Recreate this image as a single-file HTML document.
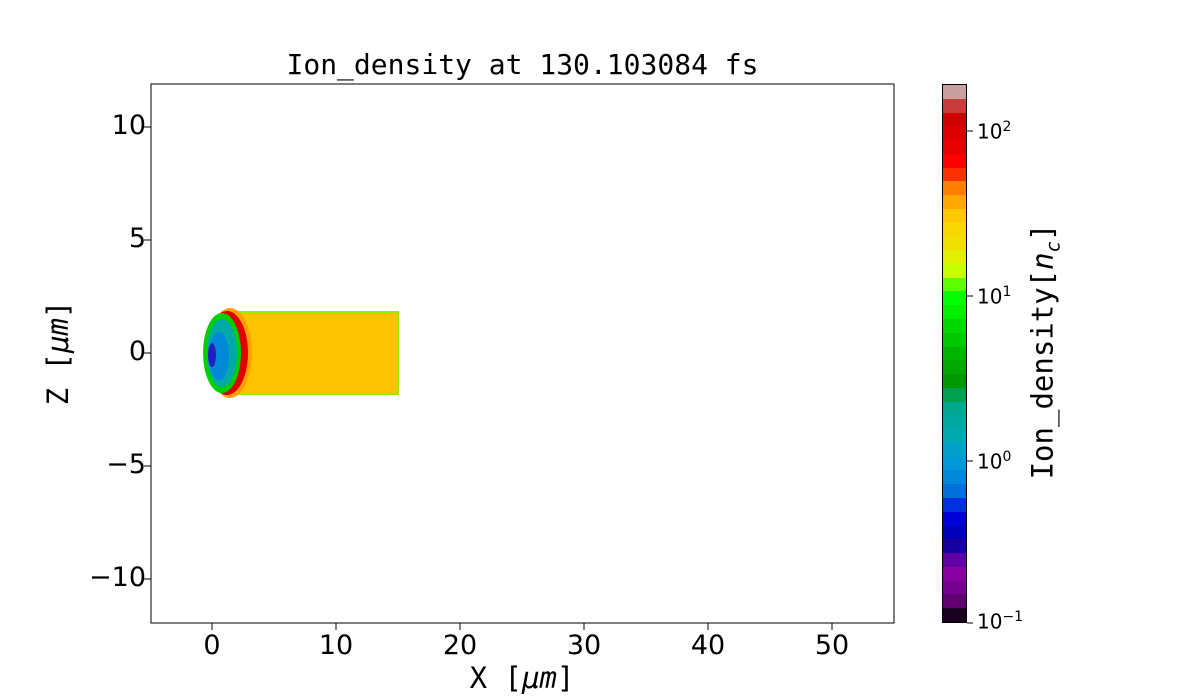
<!DOCTYPE html>
<html><head><style>
body{margin:0;background:#fff;width:1200px;height:700px;overflow:hidden;position:relative;font-family:"DejaVu Sans","Liberation Sans",sans-serif}
.t{position:absolute;white-space:nowrap}
#cb{position:absolute;left:942px;top:84px;width:25px;height:539px;border:1px solid #000;box-sizing:border-box;display:flex;flex-direction:column}
#cb div{flex:1}
</style></head><body>
<div class="t" style="left:0;width:1045px;text-align:center;top:48px;font-family:'DejaVu Sans Mono',monospace;font-size:28px">Ion_density at 130.103084 fs</div>
<svg width="1200" height="700" style="position:absolute;left:0;top:0">
<rect x="151" y="84" width="743" height="539" fill="none" stroke="#000" stroke-width="1"/>
<g stroke="#000">
<line x1="212" y1="623" x2="212" y2="630"/><line x1="336" y1="623" x2="336" y2="630"/><line x1="460" y1="623" x2="460" y2="630"/><line x1="584" y1="623" x2="584" y2="630"/><line x1="708" y1="623" x2="708" y2="630"/><line x1="832" y1="623" x2="832" y2="630"/>
<line x1="144" y1="127" x2="151" y2="127"/><line x1="144" y1="240" x2="151" y2="240"/><line x1="144" y1="353" x2="151" y2="353"/><line x1="144" y1="466" x2="151" y2="466"/><line x1="144" y1="579" x2="151" y2="579"/>
<line x1="967" y1="131" x2="973" y2="131"/><line x1="967" y1="296" x2="973" y2="296"/><line x1="967" y1="461" x2="973" y2="461"/><line x1="967" y1="623" x2="973" y2="623"/>
</g>
<rect x="226" y="311" width="173" height="84" fill="#9ee800"/>
<rect x="226" y="313" width="171" height="80" fill="#ffc400"/>
<ellipse cx="230" cy="353" rx="22" ry="45" fill="#ffa000"/>
<ellipse cx="227" cy="353" rx="21" ry="42" fill="#e00000"/>
<ellipse cx="222" cy="353" rx="19" ry="40" fill="#00d000"/>
<ellipse cx="222" cy="353" rx="15" ry="34" fill="#00a8a8"/>
<ellipse cx="219" cy="356" rx="10" ry="24" fill="#0088d8"/>
<ellipse cx="212" cy="355" rx="4" ry="12" fill="#2020c0"/>
</svg>
<div class="t" style="left:100px;top:110px;font-size:27px;width:46px;text-align:right">10</div>
<div class="t" style="left:100px;top:223px;font-size:27px;width:46px;text-align:right">5</div>
<div class="t" style="left:100px;top:336px;font-size:27px;width:46px;text-align:right">0</div>
<div class="t" style="left:80px;top:449px;font-size:27px;width:66px;text-align:right">−5</div>
<div class="t" style="left:70px;top:562px;font-size:27px;width:76px;text-align:right">−10</div>
<div class="t" style="left:192px;top:630px;font-size:27px;width:40px;text-align:center">0</div>
<div class="t" style="left:306px;top:630px;font-size:27px;width:60px;text-align:center">10</div>
<div class="t" style="left:430px;top:630px;font-size:27px;width:60px;text-align:center">20</div>
<div class="t" style="left:554px;top:630px;font-size:27px;width:60px;text-align:center">30</div>
<div class="t" style="left:678px;top:630px;font-size:27px;width:60px;text-align:center">40</div>
<div class="t" style="left:802px;top:630px;font-size:27px;width:60px;text-align:center">50</div>
<div class="t" style="left:422px;top:661px;font-size:29px;width:200px;text-align:center;font-family:'DejaVu Sans Mono',monospace">X [<i>μm</i>]</div>
<div class="t" style="left:-42px;top:336px;font-size:29px;width:200px;text-align:center;transform:rotate(-90deg);font-family:'DejaVu Sans Mono',monospace">Z [<i>μm</i>]</div>
<div id="cb">
<div style="background:#c8a0a0"></div><div style="background:#c83c3c"></div><div style="background:#d00000"></div><div style="background:#dc0000"></div><div style="background:#e80000"></div><div style="background:#ff0000"></div><div style="background:#ff3000"></div><div style="background:#ff8000"></div><div style="background:#ffa800"></div><div style="background:#ffc800"></div><div style="background:#f8d800"></div><div style="background:#f0e000"></div><div style="background:#e0f000"></div><div style="background:#c8ff00"></div><div style="background:#60ff00"></div><div style="background:#00ff00"></div><div style="background:#00f000"></div><div style="background:#00d800"></div><div style="background:#00c800"></div><div style="background:#00b400"></div><div style="background:#00a800"></div><div style="background:#009800"></div><div style="background:#00a050"></div><div style="background:#00a890"></div><div style="background:#00a8a0"></div><div style="background:#00a8b0"></div><div style="background:#00a0c8"></div><div style="background:#0098d8"></div><div style="background:#0088d8"></div><div style="background:#0070d8"></div><div style="background:#0030e0"></div><div style="background:#0000d8"></div><div style="background:#0000b8"></div><div style="background:#1800a0"></div><div style="background:#6000a0"></div><div style="background:#8800a0"></div><div style="background:#780090"></div><div style="background:#600070"></div><div style="background:#18001e"></div>
</div>
<div class="t" style="left:977px;top:119px;font-size:20px">10<sup style="font-size:14px">2</sup></div>
<div class="t" style="left:977px;top:284px;font-size:20px">10<sup style="font-size:14px">1</sup></div>
<div class="t" style="left:977px;top:449px;font-size:20px">10<sup style="font-size:14px">0</sup></div>
<div class="t" style="left:977px;top:609px;font-size:20px">10<sup style="font-size:14px">−1</sup></div>
<div class="t" style="left:920px;top:335px;font-size:29px;width:250px;text-align:center;transform:rotate(-90deg);font-family:'DejaVu Sans Mono',monospace">Ion_density[<i>n<sub style="font-size:19px">c</sub></i>]</div>
</body></html>
